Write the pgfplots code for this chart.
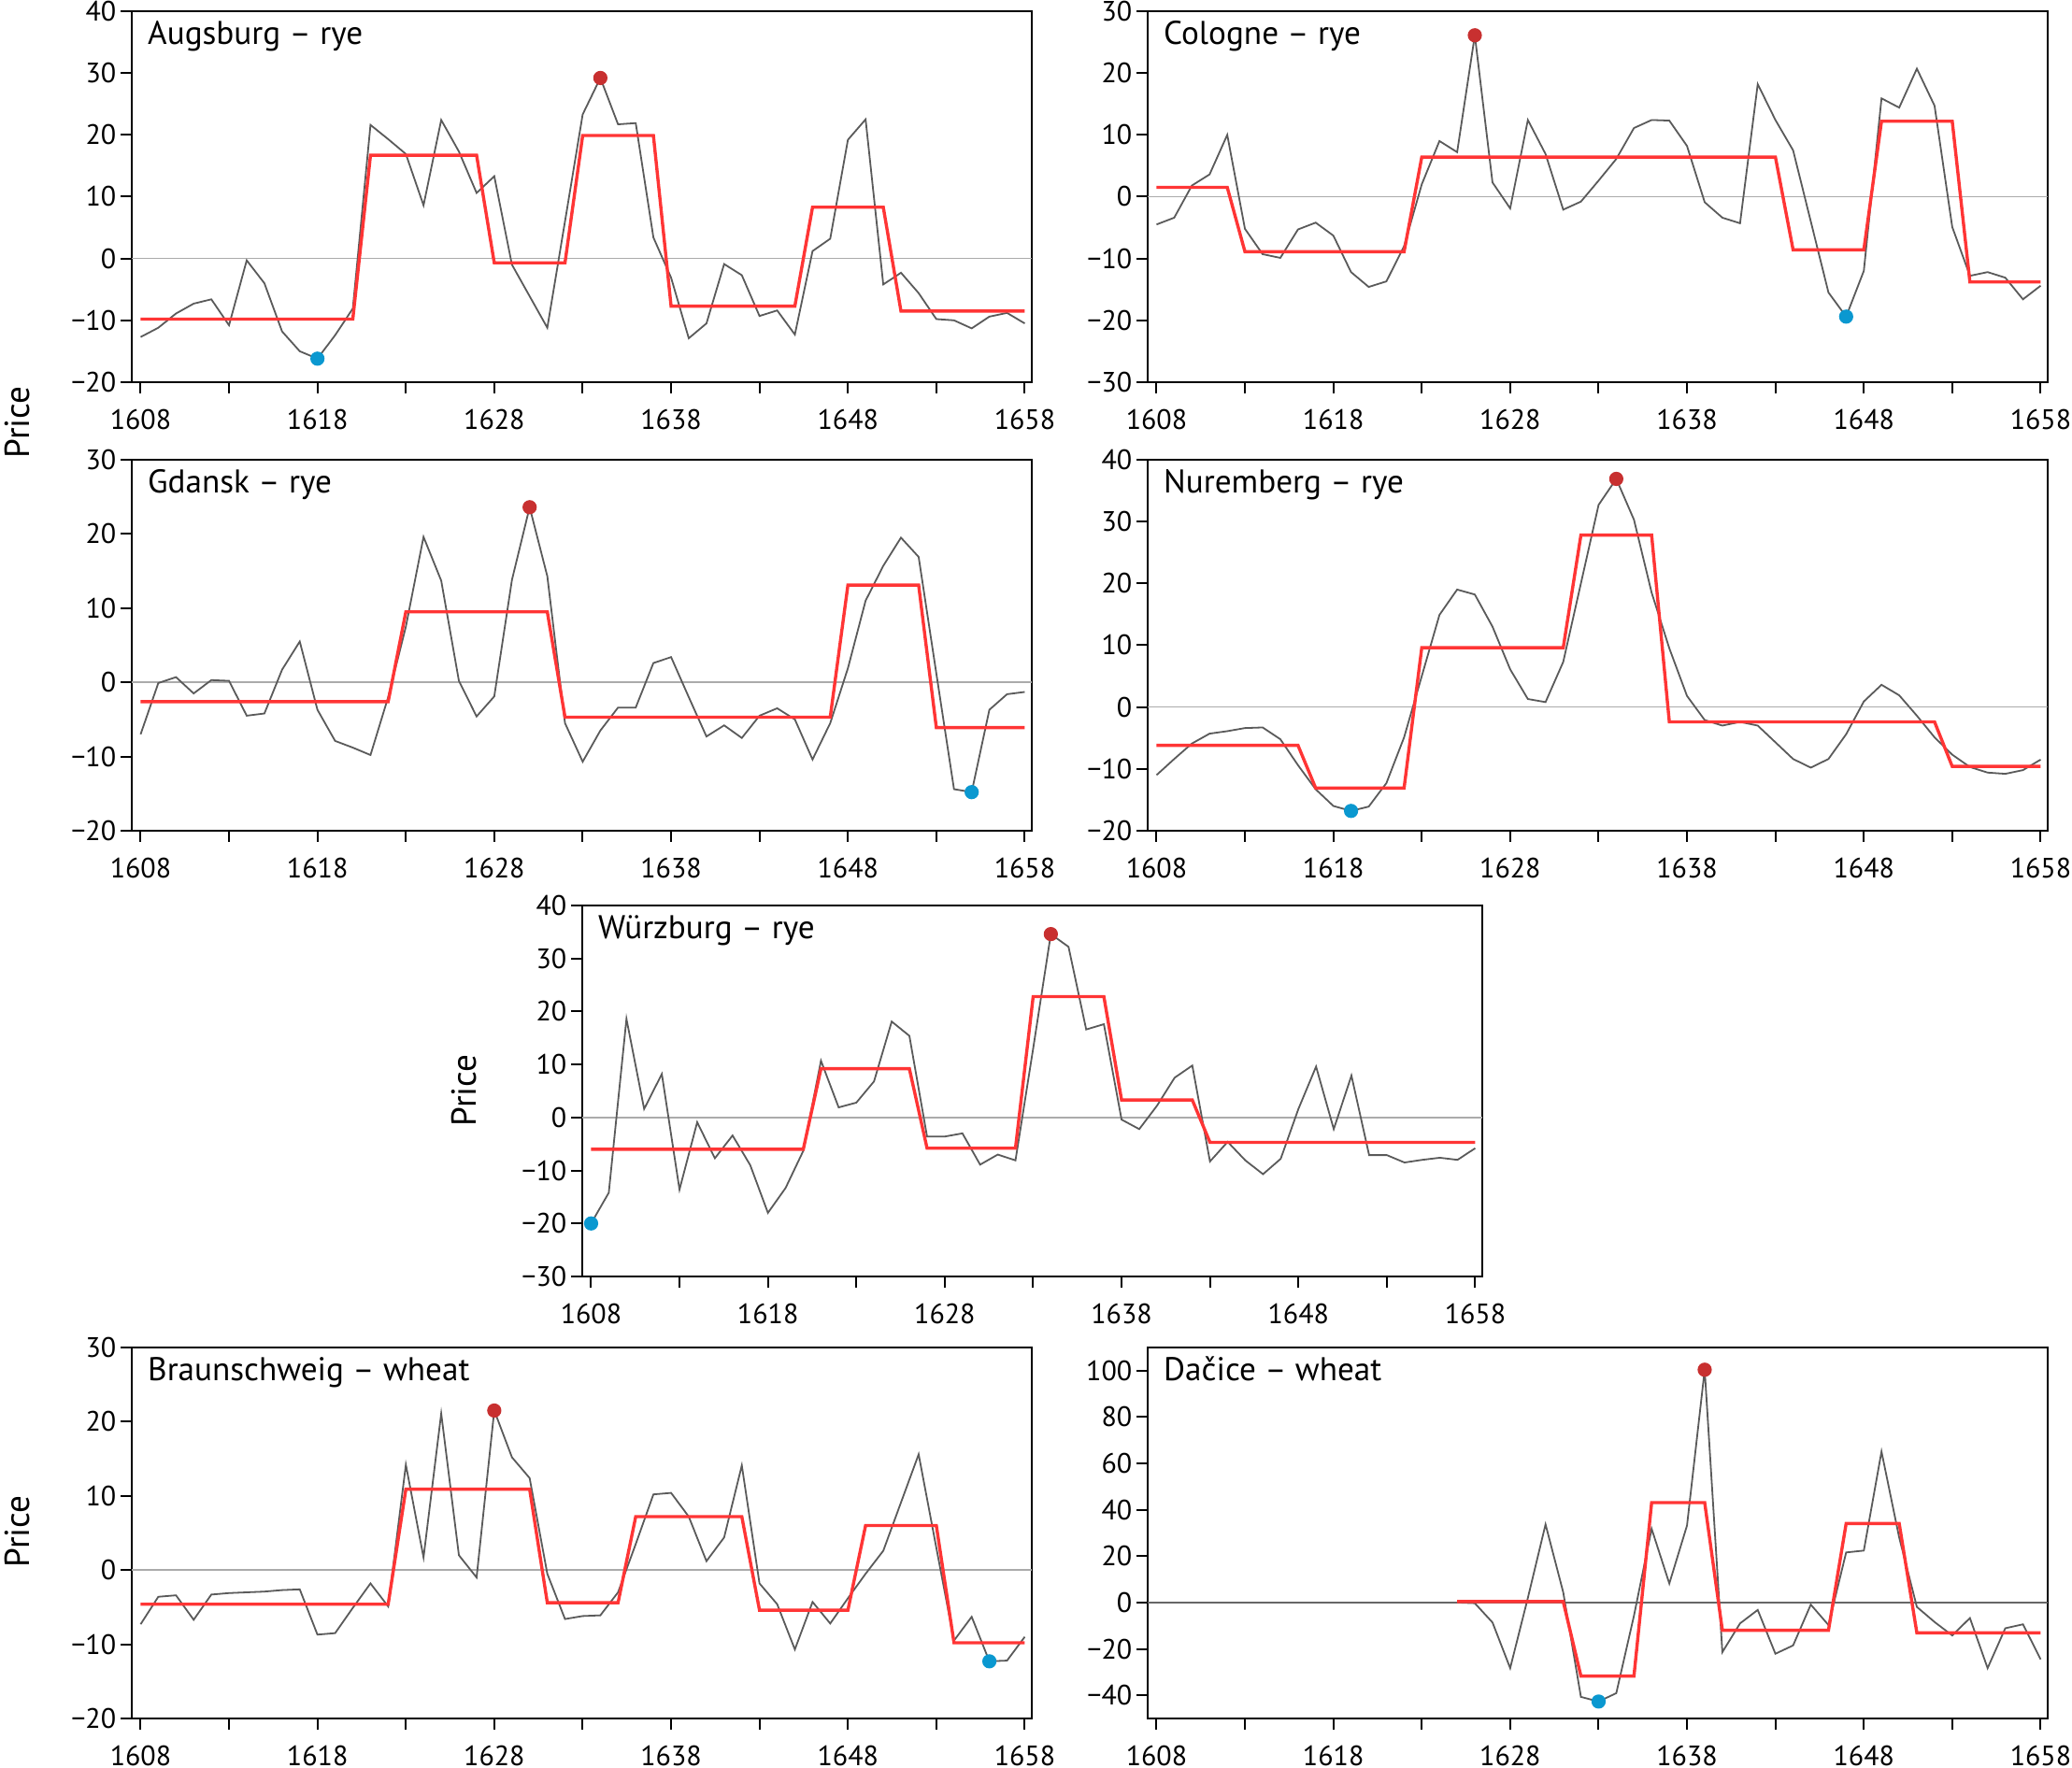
\documentclass[border=0pt]{standalone}
\usepackage{fontspec}
\setmainfont{PT Sans}
\usepackage{pgfplots}
\pgfplotsset{compat=1.18}

\definecolor{obsc}{HTML}{5A5A5A}
\definecolor{segc}{HTML}{FF3535}
\definecolor{hic}{HTML}{C83030}
\definecolor{loc}{HTML}{0A98D0}
\definecolor{zeroc}{HTML}{ABABAB}

\pgfplotsset{
  panel/.style={
    scale only axis, width=240.75pt, height=99.25pt,
    anchor=south west, clip=false,
    xmin=1607.5, xmax=1658.4,
    axis line style={black, line width=0.5pt},
    tick align=outside, tick pos=left,
    xtick={1608,1618,...,1658},
    xticklabels={1608,1618,1628,1638,1648,1658},
    minor xtick={1613,1623,...,1653},
    major tick length=3pt, minor tick length=3pt,
    tick style={black, line width=0.5pt},
    ticklabel style={font=\fontsize{7.5}{8}\selectfont},
    yticklabel style={inner sep=1pt},
    xticklabel style={inner sep=0pt, yshift=-4pt},
  },
  obsline/.style={obsc, line width=0.45pt, mark=none},
  segline/.style={segc, line width=0.85pt, mark=none},
  zline/.style={zeroc, line width=0.4pt, mark=none},
  maxdot/.style={only marks, mark=*, mark size=1.7pt, hic, mark options={draw=none, fill=hic}},
  mindot/.style={only marks, mark=*, mark size=1.7pt, loc, mark options={draw=none, fill=loc}},
}
\newcommand\ttl[1]{\node[anchor=base west, inner sep=0pt, xshift=4.1pt, yshift=-9pt,
  font=\fontsize{8.8}{10}\selectfont] at (rel axis cs:0,1) {#1};}

\begin{document}
\begin{tikzpicture}
\path[use as bounding box] (0,0) rectangle (554.25pt,473pt);

% Augsburg
\begin{axis}[panel, at={(35.25pt,370.75pt)}, ymin=-20, ymax=40,
  ytick={-20,-10,...,40}, yticklabels={−20,−10,0,10,20,30,40}]
\addplot[zline] coordinates {(1607.5,0) (1658.4,0)};
\addplot[obsline] coordinates {
(1608,-12.7) (1609,-11.2) (1610,-8.9) (1611,-7.3) (1612,-6.6) (1613,-10.8)
(1614,-0.3) (1615,-4.0) (1616,-11.8) (1617,-15.0) (1618,-16.2) (1619,-12.4)
(1620,-8.1) (1621,21.6) (1622,19.3) (1623,16.9) (1624,8.6) (1625,22.4)
(1626,17.3) (1627,10.6) (1628,13.3) (1629,-1.0) (1630,-6.1) (1631,-11.2)
(1632,6.0) (1633,23.3) (1634,29.2) (1635,21.7) (1636,21.9) (1637,3.4)
(1638,-3.1) (1639,-12.9) (1640,-10.5) (1641,-0.9) (1642,-2.7) (1643,-9.3)
(1644,-8.4) (1645,-12.3) (1646,1.2) (1647,3.2) (1648,19.2) (1649,22.5)
(1650,-4.2) (1651,-2.3) (1652,-5.6) (1653,-9.8) (1654,-10.0) (1655,-11.3)
(1656,-9.4) (1657,-8.8) (1658,-10.5)};
\addplot[segline] coordinates {
(1608,-9.8) (1620,-9.8) (1621,16.7) (1627,16.7) (1628,-0.7) (1632,-0.7)
(1633,19.9) (1637,19.9) (1638,-7.7) (1645,-7.7) (1646,8.3) (1650,8.3)
(1651,-8.5) (1658,-8.5)};
\addplot[maxdot] coordinates {(1634,29.2)};
\addplot[mindot] coordinates {(1618,-16.2)};
\ttl{Augsburg – rye}
\end{axis}

% Cologne
\begin{axis}[panel, at={(307pt,370.75pt)}, ymin=-30, ymax=30,
  ytick={-30,-20,...,30}, yticklabels={−30,−20,−10,0,10,20,30}]
\addplot[zline] coordinates {(1607.5,0) (1658.4,0)};
\addplot[obsline] coordinates {
(1608,-4.5) (1609,-3.4) (1610,1.8) (1611,3.6) (1612,10.0) (1613,-5.2)
(1614,-9.3) (1615,-9.9) (1616,-5.3) (1617,-4.2) (1618,-6.3) (1619,-12.2)
(1620,-14.6) (1621,-13.7) (1622,-8.0) (1623,2.0) (1624,9.0) (1625,7.2)
(1626,26.1) (1627,2.3) (1628,-1.9) (1629,12.4) (1630,6.9) (1631,-2.1)
(1632,-0.8) (1633,2.6) (1634,6.1) (1635,11.1) (1636,12.4) (1637,12.3)
(1638,8.2) (1639,-0.9) (1640,-3.4) (1641,-4.3) (1642,18.2) (1643,12.4)
(1644,7.5) (1645,-4.0) (1646,-15.5) (1647,-19.4) (1648,-12.0) (1649,15.9)
(1650,14.4) (1651,20.7) (1652,14.7) (1653,-4.9) (1654,-12.8) (1655,-12.2)
(1656,-13.1) (1657,-16.6) (1658,-14.4)};
\addplot[segline] coordinates {
(1608,1.5) (1612,1.5) (1613,-8.9) (1622,-8.9) (1623,6.4) (1643,6.4)
(1644,-8.6) (1648,-8.6) (1649,12.2) (1653,12.2) (1654,-13.8) (1658,-13.8)};
\addplot[maxdot] coordinates {(1626,26.1)};
\addplot[mindot] coordinates {(1647,-19.4)};
\ttl{Cologne – rye}
\end{axis}

% Gdansk
\begin{axis}[panel, at={(35.25pt,250.75pt)}, ymin=-20, ymax=30,
  ytick={-20,-10,...,30}, yticklabels={−20,−10,0,10,20,30}]
\addplot[zline] coordinates {(1607.5,0) (1658.4,0)};
\addplot[obsline] coordinates {
(1608,-7.0) (1609,-0.1) (1610,0.7) (1611,-1.5) (1612,0.3) (1613,0.2)
(1614,-4.5) (1615,-4.2) (1616,1.7) (1617,5.5) (1618,-3.7) (1619,-7.9)
(1620,-8.8) (1621,-9.8) (1622,-2.0) (1623,7.5) (1624,19.6) (1625,13.7)
(1626,0.2) (1627,-4.6) (1628,-1.9) (1629,13.8) (1630,23.6) (1631,14.3)
(1632,-5.5) (1633,-10.7) (1634,-6.5) (1635,-3.4) (1636,-3.4) (1637,2.6)
(1638,3.4) (1639,-2.0) (1640,-7.3) (1641,-5.8) (1642,-7.5) (1643,-4.5)
(1644,-3.5) (1645,-5.0) (1646,-10.4) (1647,-5.5) (1648,1.9) (1649,11.0)
(1650,15.7) (1651,19.5) (1652,16.9) (1653,1.2) (1654,-14.4) (1655,-14.8)
(1656,-3.7) (1657,-1.6) (1658,-1.3)};
\addplot[segline] coordinates {
(1608,-2.6) (1622,-2.6) (1623,9.5) (1631,9.5) (1632,-4.7) (1647,-4.7)
(1648,13.1) (1652,13.1) (1653,-6.1) (1658,-6.1)};
\addplot[maxdot] coordinates {(1630,23.6)};
\addplot[mindot] coordinates {(1655,-14.8)};
\ttl{Gdansk – rye}
\end{axis}

% Nuremberg
\begin{axis}[panel, at={(307pt,250.75pt)}, ymin=-20, ymax=40,
  ytick={-20,-10,...,40}, yticklabels={−20,−10,0,10,20,30,40}]
\addplot[zline] coordinates {(1607.5,0) (1658.4,0)};
\addplot[obsline] coordinates {
(1608,-11.0) (1609,-8.4) (1610,-5.9) (1611,-4.3) (1612,-3.9) (1613,-3.4)
(1614,-3.3) (1615,-5.2) (1616,-9.4) (1617,-13.3) (1618,-16.0) (1619,-16.8)
(1620,-16.1) (1621,-12.3) (1622,-4.9) (1623,5.0) (1624,14.9) (1625,19.0)
(1626,18.2) (1627,13.0) (1628,6.1) (1629,1.3) (1630,0.8) (1631,7.3)
(1632,20.0) (1633,32.7) (1634,36.9) (1635,30.3) (1636,18.5) (1637,9.5)
(1638,1.8) (1639,-2.1) (1640,-3.0) (1641,-2.4) (1642,-3.0) (1643,-5.7)
(1644,-8.4) (1645,-9.8) (1646,-8.4) (1647,-4.4) (1648,0.9) (1649,3.6)
(1650,1.9) (1651,-1.4) (1652,-4.9) (1653,-7.7) (1654,-9.7) (1655,-10.6)
(1656,-10.8) (1657,-10.2) (1658,-8.5)};
\addplot[segline] coordinates {
(1608,-6.2) (1616,-6.2) (1617,-13.1) (1622,-13.1) (1623,9.6) (1631,9.6)
(1632,27.8) (1636,27.8) (1637,-2.4) (1652,-2.4) (1653,-9.6) (1658,-9.6)};
\addplot[maxdot] coordinates {(1634,36.9)};
\addplot[mindot] coordinates {(1619,-16.8)};
\ttl{Nuremberg – rye}
\end{axis}

% Wuerzburg
\begin{axis}[panel, at={(155.75pt,131.5pt)}, ymin=-30, ymax=40,
  ytick={-30,-20,...,40}, yticklabels={−30,−20,−10,0,10,20,30,40}]
\addplot[zline] coordinates {(1607.5,0) (1658.4,0)};
\addplot[obsline] coordinates {
(1608,-20.0) (1609,-14.2) (1610,18.6) (1611,1.6) (1612,8.2) (1613,-13.6)
(1614,-0.9) (1615,-7.7) (1616,-3.4) (1617,-9.0) (1618,-18.0) (1619,-13.3)
(1620,-6.3) (1621,10.7) (1622,1.9) (1623,2.8) (1624,6.8) (1625,18.1)
(1626,15.4) (1627,-3.6) (1628,-3.6) (1629,-3.0) (1630,-8.9) (1631,-7.0)
(1632,-8.1) (1633,13.0) (1634,34.6) (1635,32.2) (1636,16.6) (1637,17.6)
(1638,-0.4) (1639,-2.2) (1640,2.2) (1641,7.5) (1642,9.8) (1643,-8.3)
(1644,-4.6) (1645,-8.1) (1646,-10.7) (1647,-7.8) (1648,1.6) (1649,9.6)
(1650,-2.2) (1651,7.9) (1652,-7.1) (1653,-7.1) (1654,-8.5) (1655,-8.0)
(1656,-7.6) (1657,-8.0) (1658,-5.8)};
\addplot[segline] coordinates {
(1608,-6.0) (1620,-6.0) (1621,9.2) (1626,9.2) (1627,-5.8) (1632,-5.8)
(1633,22.8) (1637,22.8) (1638,3.3) (1642,3.3) (1643,-4.7) (1658,-4.7)};
\addplot[maxdot] coordinates {(1634,34.6)};
\addplot[mindot] coordinates {(1608,-20.0)};
\ttl{Würzburg – rye}
\end{axis}

% Braunschweig
\begin{axis}[panel, at={(35.25pt,13.25pt)}, ymin=-20, ymax=30,
  ytick={-20,-10,...,30}, yticklabels={−20,−10,0,10,20,30}]
\addplot[zline] coordinates {(1607.5,0) (1658.4,0)};
\addplot[obsline] coordinates {
(1608,-7.3) (1609,-3.6) (1610,-3.4) (1611,-6.7) (1612,-3.3) (1613,-3.1)
(1614,-3.0) (1615,-2.9) (1616,-2.7) (1617,-2.6) (1618,-8.7) (1619,-8.5)
(1620,-5.1) (1621,-1.8) (1622,-4.9) (1623,14.2) (1624,1.7) (1625,21.1)
(1626,2.0) (1627,-1.0) (1628,21.5) (1629,15.2) (1630,12.4) (1631,-0.5)
(1632,-6.6) (1633,-6.2) (1634,-6.1) (1635,-3.0) (1636,3.5) (1637,10.2)
(1638,10.4) (1639,7.2) (1640,1.2) (1641,4.4) (1642,14.1) (1643,-1.8)
(1644,-4.6) (1645,-10.7) (1646,-4.3) (1647,-7.2) (1648,-3.8) (1649,-0.5)
(1650,2.6) (1651,9.1) (1652,15.6) (1653,3.0) (1654,-9.5) (1655,-6.3)
(1656,-12.3) (1657,-12.2) (1658,-9.0)};
\addplot[segline] coordinates {
(1608,-4.6) (1622,-4.6) (1623,10.9) (1630,10.9) (1631,-4.4) (1635,-4.4)
(1636,7.2) (1642,7.2) (1643,-5.4) (1648,-5.4) (1649,6.0) (1653,6.0)
(1654,-9.8) (1658,-9.8)};
\addplot[maxdot] coordinates {(1628,21.5)};
\addplot[mindot] coordinates {(1656,-12.3)};
\ttl{Braunschweig – wheat}
\end{axis}

% Dacice
\begin{axis}[panel, at={(307pt,13.25pt)}, ymin=-50, ymax=110,
  ytick={-40,-20,...,100}, yticklabels={−40,−20,0,20,40,60,80,100}]
\addplot[zline, draw=black!60] coordinates {(1607.5,0) (1658.4,0)};
\addplot[obsline] coordinates {
(1625,0.0) (1626,-0.3) (1627,-8.6) (1628,-28.3) (1629,2.0) (1630,33.7)
(1631,4.4) (1632,-40.7) (1633,-42.7) (1634,-39.1) (1635,-5.7) (1636,31.8)
(1637,8.2) (1638,33.2) (1639,100.4) (1640,-21.4) (1641,-9.0) (1642,-3.2)
(1643,-22.1) (1644,-18.5) (1645,-0.9) (1646,-9.7) (1647,21.6) (1648,22.4)
(1649,65.1) (1650,28.0) (1651,-1.9) (1652,-8.4) (1653,-14.2) (1654,-6.7)
(1655,-28.3) (1656,-11.1) (1657,-9.4) (1658,-24.5)};
\addplot[segline] coordinates {
(1625,0.4) (1631,0.4) (1632,-31.7) (1635,-31.7) (1636,43.1) (1639,43.1)
(1640,-12.0) (1646,-12.0) (1647,34.1) (1650,34.1) (1651,-13.1) (1658,-13.1)};
\addplot[maxdot] coordinates {(1639,100.4)};
\addplot[mindot] coordinates {(1633,-42.7)};
\ttl{Dačice – wheat}
\end{axis}

\node[rotate=90, font=\fontsize{9.3}{11}\selectfont] at (4.6pt,360pt) {Price};
\node[rotate=90, font=\fontsize{9.3}{11}\selectfont] at (124.25pt,181.25pt) {Price};
\node[rotate=90, font=\fontsize{9.3}{11}\selectfont] at (4.6pt,63.25pt) {Price};
\end{tikzpicture}
\end{document}
